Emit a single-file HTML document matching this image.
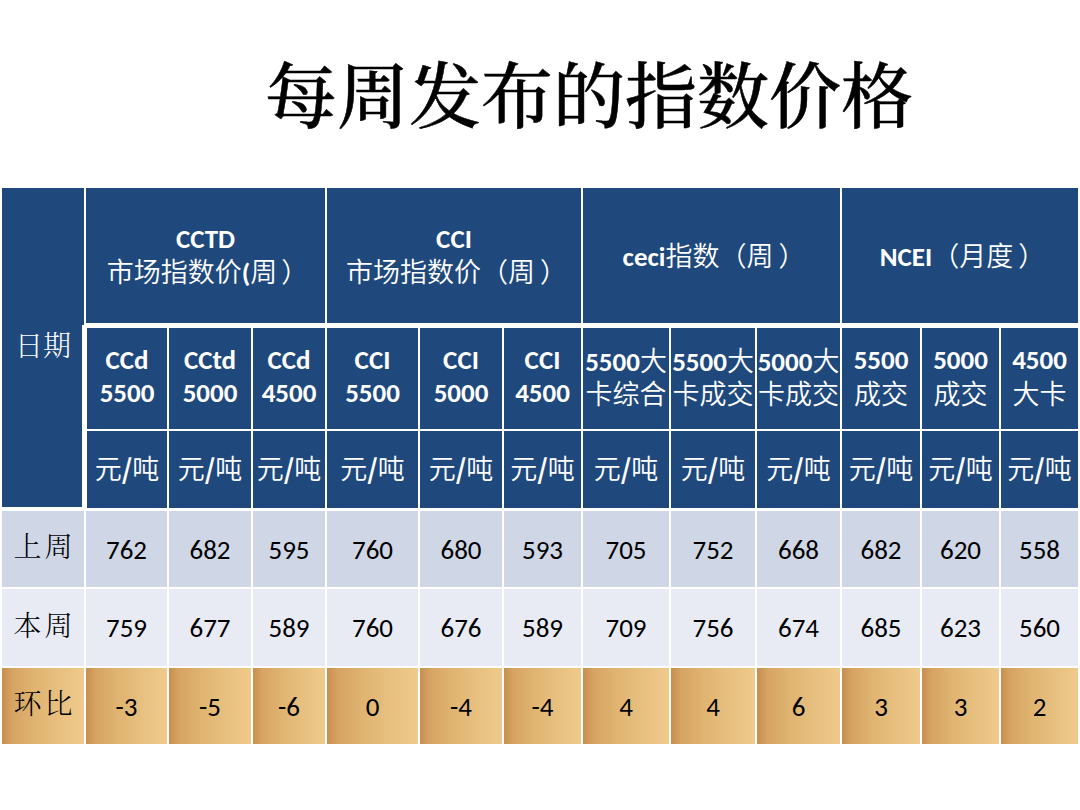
<!DOCTYPE html>
<html lang="zh-CN"><head><meta charset="utf-8"><title>每周发布的指数价格</title>
<style>
html,body{margin:0;padding:0;background:#fff;}
body{width:1080px;height:810px;position:relative;overflow:hidden;font-family:"Carlito","Liberation Sans","Noto Sans CJK SC",sans-serif;}
.title{position:absolute;left:0;top:0;width:1080px;height:0;}
.title span{position:absolute;left:265px;top:48px;white-space:nowrap;font-family:"Liberation Serif","Noto Serif CJK SC",serif;font-weight:500;font-size:72px;line-height:100px;color:#000;-webkit-text-stroke:0.5px #000;letter-spacing:0px;}
.c{position:absolute;box-sizing:border-box;display:flex;flex-direction:column;align-items:center;justify-content:center;text-align:center;white-space:nowrap;font-size:27px;}
.w{color:#fff;}
.k{color:#000;}
.z{font-family:"Noto Sans CJK SC",sans-serif;font-weight:350;font-size:27px;}
.s{font-family:"Noto Serif CJK SC",serif;font-weight:300;font-size:28px;letter-spacing:3px;margin-right:-3px;}
.h1>div,.h2>div,.h3>div,.lab>span{position:relative;}
.h1>div{top:-2px;} .h1>div:first-child{top:-1px;} i{font-style:normal;} .rp{position:relative;left:5px;} .h2>div{top:-3px;} .h3>div{top:-2px;} .lab>span{top:-4px;}
b.sl{font-family:"Noto Sans CJK SC",sans-serif;font-weight:700;}
b{font-family:"Carlito","Liberation Sans",sans-serif;font-weight:700;}
.n{font-family:"Carlito","Liberation Sans",sans-serif;font-weight:400;}
.h1 div,.h2 div,.h3 div{line-height:33px;height:33px;}
</style></head><body>
<div class="title"><span>每周发布的指数价格</span></div>
<div class="c w lab" style="left:2px;top:188px;width:82px;height:319px;background:#1f497c"><span class="s" style="letter-spacing:0;margin-right:0">日期</span></div>
<div class="c w h1" style="left:86px;top:188px;width:239px;height:135px;background:#1f497c"><div><b>CCTD</b></div><div><span class="z">市场指数价</span><b>(</b><span class="z">周<i class="rp" style="left:4px">）</i></span></div></div>
<div class="c w h1" style="left:327px;top:188px;width:254px;height:135px;background:#1f497c"><div><b>CCI</b></div><div><span class="z">市场指数价（周<i class="rp">）</i></span></div></div>
<div class="c w h1" style="left:583px;top:188px;width:257px;height:135px;background:#1f497c"><div><b>ceci</b><span class="z">指数（周<i class="rp">）</i></span></div></div>
<div class="c w h1" style="left:842px;top:188px;width:236px;height:135px;background:#1f497c"><div><b>NCEI</b><span class="z">（月度<i class="rp">）</i></span></div></div>
<div class="c w h2" style="left:87px;top:328px;width:80px;height:101px;background:#1f497c"><div><b>CCd</b></div><div><b>5500</b></div></div>
<div class="c w h2" style="left:169px;top:328px;width:82px;height:101px;background:#1f497c"><div><b>CCtd</b></div><div><b>5000</b></div></div>
<div class="c w h2" style="left:253px;top:328px;width:72px;height:101px;background:#1f497c"><div><b>CCd</b></div><div><b>4500</b></div></div>
<div class="c w h2" style="left:327px;top:328px;width:91px;height:101px;background:#1f497c"><div><b>CCI</b></div><div><b>5500</b></div></div>
<div class="c w h2" style="left:420px;top:328px;width:82px;height:101px;background:#1f497c"><div><b>CCI</b></div><div><b>5000</b></div></div>
<div class="c w h2" style="left:504px;top:328px;width:77px;height:101px;background:#1f497c"><div><b>CCI</b></div><div><b>4500</b></div></div>
<div class="c w h2" style="left:583px;top:328px;width:86px;height:101px;background:#1f497c"><div><b>5500</b><span class="z">大</span></div><div><span class="z">卡综合</span></div></div>
<div class="c w h2" style="left:671px;top:328px;width:84px;height:101px;background:#1f497c"><div><b>5500</b><span class="z">大</span></div><div><span class="z">卡成交</span></div></div>
<div class="c w h2" style="left:757px;top:328px;width:83px;height:101px;background:#1f497c"><div><b>5000</b><span class="z">大</span></div><div><span class="z">卡成交</span></div></div>
<div class="c w h2" style="left:842px;top:328px;width:78px;height:101px;background:#1f497c"><div><b>5500</b></div><div><span class="z">成交</span></div></div>
<div class="c w h2" style="left:922px;top:328px;width:77px;height:101px;background:#1f497c"><div><b>5000</b></div><div><span class="z">成交</span></div></div>
<div class="c w h2" style="left:1001px;top:328px;width:77px;height:101px;background:#1f497c"><div><b>4500</b></div><div><span class="z">大卡</span></div></div>
<div class="c w h3" style="left:87px;top:431px;width:80px;height:77px;background:#1f497c"><div><span class="z">元</span><b class="sl">/</b><span class="z">吨</span></div></div>
<div class="c w h3" style="left:169px;top:431px;width:82px;height:77px;background:#1f497c"><div><span class="z">元</span><b class="sl">/</b><span class="z">吨</span></div></div>
<div class="c w h3" style="left:253px;top:431px;width:72px;height:77px;background:#1f497c"><div><span class="z">元</span><b class="sl">/</b><span class="z">吨</span></div></div>
<div class="c w h3" style="left:327px;top:431px;width:91px;height:77px;background:#1f497c"><div><span class="z">元</span><b class="sl">/</b><span class="z">吨</span></div></div>
<div class="c w h3" style="left:420px;top:431px;width:82px;height:77px;background:#1f497c"><div><span class="z">元</span><b class="sl">/</b><span class="z">吨</span></div></div>
<div class="c w h3" style="left:504px;top:431px;width:77px;height:77px;background:#1f497c"><div><span class="z">元</span><b class="sl">/</b><span class="z">吨</span></div></div>
<div class="c w h3" style="left:583px;top:431px;width:86px;height:77px;background:#1f497c"><div><span class="z">元</span><b class="sl">/</b><span class="z">吨</span></div></div>
<div class="c w h3" style="left:671px;top:431px;width:84px;height:77px;background:#1f497c"><div><span class="z">元</span><b class="sl">/</b><span class="z">吨</span></div></div>
<div class="c w h3" style="left:757px;top:431px;width:83px;height:77px;background:#1f497c"><div><span class="z">元</span><b class="sl">/</b><span class="z">吨</span></div></div>
<div class="c w h3" style="left:842px;top:431px;width:78px;height:77px;background:#1f497c"><div><span class="z">元</span><b class="sl">/</b><span class="z">吨</span></div></div>
<div class="c w h3" style="left:922px;top:431px;width:77px;height:77px;background:#1f497c"><div><span class="z">元</span><b class="sl">/</b><span class="z">吨</span></div></div>
<div class="c w h3" style="left:1001px;top:431px;width:77px;height:77px;background:#1f497c"><div><span class="z">元</span><b class="sl">/</b><span class="z">吨</span></div></div>
<div class="c k lab" style="left:2px;top:511px;width:82px;height:76px;background:#cfd6e6"><span class="s">上周</span></div>
<div class="c k" style="left:86px;top:511px;width:81px;height:76px;background:#cfd6e6"><span class="n">762</span></div>
<div class="c k" style="left:169px;top:511px;width:82px;height:76px;background:#cfd6e6"><span class="n">682</span></div>
<div class="c k" style="left:253px;top:511px;width:72px;height:76px;background:#cfd6e6"><span class="n">595</span></div>
<div class="c k" style="left:327px;top:511px;width:91px;height:76px;background:#cfd6e6"><span class="n">760</span></div>
<div class="c k" style="left:420px;top:511px;width:82px;height:76px;background:#cfd6e6"><span class="n">680</span></div>
<div class="c k" style="left:504px;top:511px;width:77px;height:76px;background:#cfd6e6"><span class="n">593</span></div>
<div class="c k" style="left:583px;top:511px;width:86px;height:76px;background:#cfd6e6"><span class="n">705</span></div>
<div class="c k" style="left:671px;top:511px;width:84px;height:76px;background:#cfd6e6"><span class="n">752</span></div>
<div class="c k" style="left:757px;top:511px;width:83px;height:76px;background:#cfd6e6"><span class="n">668</span></div>
<div class="c k" style="left:842px;top:511px;width:78px;height:76px;background:#cfd6e6"><span class="n">682</span></div>
<div class="c k" style="left:922px;top:511px;width:77px;height:76px;background:#cfd6e6"><span class="n">620</span></div>
<div class="c k" style="left:1001px;top:511px;width:77px;height:76px;background:#cfd6e6"><span class="n">558</span></div>
<div class="c k lab" style="left:2px;top:589px;width:82px;height:77px;background:#e8ebf4"><span class="s">本周</span></div>
<div class="c k" style="left:86px;top:589px;width:81px;height:77px;background:#e8ebf4"><span class="n">759</span></div>
<div class="c k" style="left:169px;top:589px;width:82px;height:77px;background:#e8ebf4"><span class="n">677</span></div>
<div class="c k" style="left:253px;top:589px;width:72px;height:77px;background:#e8ebf4"><span class="n">589</span></div>
<div class="c k" style="left:327px;top:589px;width:91px;height:77px;background:#e8ebf4"><span class="n">760</span></div>
<div class="c k" style="left:420px;top:589px;width:82px;height:77px;background:#e8ebf4"><span class="n">676</span></div>
<div class="c k" style="left:504px;top:589px;width:77px;height:77px;background:#e8ebf4"><span class="n">589</span></div>
<div class="c k" style="left:583px;top:589px;width:86px;height:77px;background:#e8ebf4"><span class="n">709</span></div>
<div class="c k" style="left:671px;top:589px;width:84px;height:77px;background:#e8ebf4"><span class="n">756</span></div>
<div class="c k" style="left:757px;top:589px;width:83px;height:77px;background:#e8ebf4"><span class="n">674</span></div>
<div class="c k" style="left:842px;top:589px;width:78px;height:77px;background:#e8ebf4"><span class="n">685</span></div>
<div class="c k" style="left:922px;top:589px;width:77px;height:77px;background:#e8ebf4"><span class="n">623</span></div>
<div class="c k" style="left:1001px;top:589px;width:77px;height:77px;background:#e8ebf4"><span class="n">560</span></div>
<div class="c k lab" style="left:2px;top:668px;width:82px;height:76px;background:linear-gradient(90deg,#c78e4f 0%,#d6a362 12%,#e0b471 40%,#e9c282 75%,#efca8c 100%)"><span class="s">环比</span></div>
<div class="c k" style="left:86px;top:668px;width:81px;height:76px;background:linear-gradient(90deg,#c78e4f 0%,#d6a362 12%,#e0b471 40%,#e9c282 75%,#efca8c 100%)"><span class="n">-3</span></div>
<div class="c k" style="left:169px;top:668px;width:82px;height:76px;background:linear-gradient(90deg,#c78e4f 0%,#d6a362 12%,#e0b471 40%,#e9c282 75%,#efca8c 100%)"><span class="n">-5</span></div>
<div class="c k" style="left:253px;top:668px;width:72px;height:76px;background:linear-gradient(90deg,#c78e4f 0%,#d6a362 12%,#e0b471 40%,#e9c282 75%,#efca8c 100%)"><span class="n">-6</span></div>
<div class="c k" style="left:327px;top:668px;width:91px;height:76px;background:linear-gradient(90deg,#c78e4f 0%,#d6a362 12%,#e0b471 40%,#e9c282 75%,#efca8c 100%)"><span class="n">0</span></div>
<div class="c k" style="left:420px;top:668px;width:82px;height:76px;background:linear-gradient(90deg,#c78e4f 0%,#d6a362 12%,#e0b471 40%,#e9c282 75%,#efca8c 100%)"><span class="n">-4</span></div>
<div class="c k" style="left:504px;top:668px;width:77px;height:76px;background:linear-gradient(90deg,#c78e4f 0%,#d6a362 12%,#e0b471 40%,#e9c282 75%,#efca8c 100%)"><span class="n">-4</span></div>
<div class="c k" style="left:583px;top:668px;width:86px;height:76px;background:linear-gradient(90deg,#c78e4f 0%,#d6a362 12%,#e0b471 40%,#e9c282 75%,#efca8c 100%)"><span class="n">4</span></div>
<div class="c k" style="left:671px;top:668px;width:84px;height:76px;background:linear-gradient(90deg,#c78e4f 0%,#d6a362 12%,#e0b471 40%,#e9c282 75%,#efca8c 100%)"><span class="n">4</span></div>
<div class="c k" style="left:757px;top:668px;width:83px;height:76px;background:linear-gradient(90deg,#c78e4f 0%,#d6a362 12%,#e0b471 40%,#e9c282 75%,#efca8c 100%)"><span class="n">6</span></div>
<div class="c k" style="left:842px;top:668px;width:78px;height:76px;background:linear-gradient(90deg,#c78e4f 0%,#d6a362 12%,#e0b471 40%,#e9c282 75%,#efca8c 100%)"><span class="n">3</span></div>
<div class="c k" style="left:922px;top:668px;width:77px;height:76px;background:linear-gradient(90deg,#c78e4f 0%,#d6a362 12%,#e0b471 40%,#e9c282 75%,#efca8c 100%)"><span class="n">3</span></div>
<div class="c k" style="left:1001px;top:668px;width:77px;height:76px;background:linear-gradient(90deg,#c78e4f 0%,#d6a362 12%,#e0b471 40%,#e9c282 75%,#efca8c 100%)"><span class="n">2</span></div>
<div style="position:absolute;left:82px;top:325px;width:5px;height:183px;background:#fff"></div>
</body></html>
